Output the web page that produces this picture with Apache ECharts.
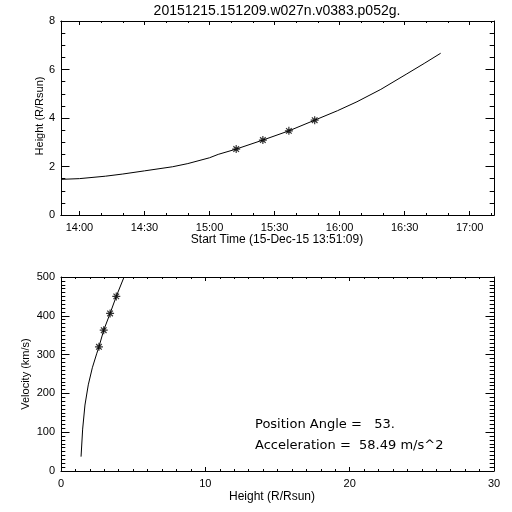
<!DOCTYPE html>
<html>
<head>
<meta charset="utf-8">
<script src="https://cdn.jsdelivr.net/npm/echarts@6/dist/echarts.min.js"></script>
<style>html,body{margin:0;padding:0;background:#fff}#c{width:512px;height:512px}</style>
</head>
<body>
<div id="c"></div>
<script>
// ---------- data ----------
const titleText = '20151215.151209.w027n.v0383.p052g.';
const timeTickLabels = ['14:00','14:30','15:00','15:30','16:00','16:30','17:00'];
const timeMinorTicks = ['14:10','14:20','14:40','14:50','15:10','15:20','15:40','15:50','16:10','16:20','16:40','16:50','17:10'];
// fitted height-time curve
const fitTimes   = ['13:51:30','14:00:00','14:12:00','14:20:00','14:30:00','14:43:00','14:50:00','15:00:00','15:04:00','15:12:00','15:24:36','15:36:36','15:48:30','15:59:00','16:08:00','16:19:00','16:31:00','16:39:00','16:46:36'];
const fitHeights = [1.47, 1.50, 1.60, 1.69, 1.82, 1.99, 2.12, 2.36, 2.50, 2.71, 3.09, 3.47, 3.91, 4.30, 4.67, 5.18, 5.82, 6.25, 6.67];
// measured points (asterisks)
const obsTimes   = ['15:12:18','15:24:36','15:36:36','15:48:30'];
const obsHeights = [2.72, 3.09, 3.47, 3.91];
// velocity vs height curve
const velCurveH = [1.39, 1.50, 1.66, 1.89, 2.17, 2.47, 2.63, 2.96, 3.40, 3.83, 4.37];
const velCurveV = [37, 108, 170, 222, 266, 302, 320, 363, 406, 450, 500];
const velObsH = [2.63, 2.96, 3.40, 3.83];
const velObsV = [320, 363, 406, 450];
const xTimeTitle = 'Start Time (15-Dec-15 13:51:09)';
const yTopTitle = 'Height (R/Rsun)';
const xBotTitle = 'Height (R/Rsun)';
const yBotTitle = 'Velocity (km/s)';
const annot1 = 'Position Angle =   53.';
const annot2 = 'Acceleration =  58.49 m/s^2';

// ---------- helpers ----------
function toMin(s){const p=s.split(':').map(Number);return p[0]*60+p[1]+(p[2]||0)/60;}
function fmt(v){const h=Math.floor(v/60), m=Math.round(v-h*60);return h+':'+(m<10?'0':'')+m;}
const T0 = toMin('13:51:30'), T1 = toMin('17:11:12');
const majors = timeTickLabels.map(toMin);
const minors = timeMinorTicks.map(toMin);
const BLK = '#000';
const tickFont = {color: BLK, fontSize: 11, fontFamily: 'Liberation Sans'};

function timeAxis(pos, vals, len, labels){
  return {gridIndex:0, type:'value', min:T0, max:T1, position:pos,
    axisLine:{show:true, onZero:false, lineStyle:{color:BLK,width:1}},
    axisTick:{show:true, inside:true, length:len, customValues:vals, lineStyle:{color:BLK,width:1}},
    axisLabel: labels ? Object.assign({show:true, customValues:vals, formatter:fmt, margin:7}, tickFont) : {show:false},
    splitLine:{show:false}};
}
function valAxis(grid, pos, min, max, itv, len, minSplit, minLen, labels, margin){
  return {gridIndex:grid, type:'value', min:min, max:max, interval:itv, position:pos,
    axisLine:{show:true, onZero:false, lineStyle:{color:BLK,width:1}},
    axisTick:{show:true, inside:true, length:len, lineStyle:{color:BLK,width:1}},
    minorTick:{show:true, splitNumber:minSplit, length:minLen, lineStyle:{color:BLK,width:1}},
    axisLabel: labels ? Object.assign({show:true, margin:margin}, tickFont) : {show:false},
    splitLine:{show:false}, minorSplitLine:{show:false}};
}

const asterisk = 'path://M0,5L10,5M5,0L5,10M1.5,1.5L8.5,8.5M1.5,8.5L8.5,1.5';

const option = {
  animation:false,
  backgroundColor:'#fff',
  grid:[{left:61, top:21, width:433, height:194},{left:61, top:277, width:433, height:194}],
  xAxis:[
    timeAxis('bottom', majors, 4, true),
    timeAxis('bottom', minors, 2, false),
    timeAxis('top', majors, 4, false),
    timeAxis('top', minors, 2, false),
    valAxis(1,'bottom',0,30,10,4,10,2,true,7),
    valAxis(1,'top',0,30,10,4,10,2,false,0)
  ],
  yAxis:[
    valAxis(0,'left',0,8,2,8.5,4,4.3,true,6),
    valAxis(0,'right',0,8,2,8.5,4,4.3,false,0),
    valAxis(1,'left',0,500,100,8.5,10,4.3,true,6),
    valAxis(1,'right',0,500,100,8.5,10,4.3,false,0)
  ],
  series:[
    {type:'line', xAxisIndex:0, yAxisIndex:0, showSymbol:false, symbol:'none',
      lineStyle:{color:BLK,width:1}, data:fitTimes.map((t,i)=>[toMin(t),fitHeights[i]])},
    {type:'scatter', xAxisIndex:0, yAxisIndex:0, symbol:asterisk, symbolSize:8,
      itemStyle:{color:'none', borderColor:BLK, borderWidth:1.2},
      data:obsTimes.map((t,i)=>[toMin(t),obsHeights[i]])},
    {type:'line', xAxisIndex:4, yAxisIndex:2, showSymbol:false, symbol:'none', smooth:false,
      lineStyle:{color:BLK,width:1}, data:velCurveH.map((h,i)=>[h,velCurveV[i]])},
    {type:'scatter', xAxisIndex:4, yAxisIndex:2, symbol:asterisk, symbolSize:8,
      itemStyle:{color:'none', borderColor:BLK, borderWidth:1.2},
      data:velObsH.map((h,i)=>[h,velObsV[i]])}
  ],
  graphic:[
    {type:'text', x:277, y:11, style:{text:titleText, fill:BLK, font:'14px "Liberation Sans"', align:'center', verticalAlign:'middle'}},
    {type:'text', x:277, y:240, style:{text:xTimeTitle, fill:BLK, font:'12px "Liberation Sans"', align:'center', verticalAlign:'middle'}},
    {type:'text', x:40, y:116, rotation:Math.PI/2, style:{text:yTopTitle, fill:BLK, font:'11px "Liberation Sans"', align:'center', verticalAlign:'middle'}},
    {type:'text', x:272, y:497, style:{text:xBotTitle, fill:BLK, font:'12px "Liberation Sans"', align:'center', verticalAlign:'middle'}},
    {type:'text', x:26, y:374, rotation:Math.PI/2, style:{text:yBotTitle, fill:BLK, font:'11px "Liberation Sans"', align:'center', verticalAlign:'middle'}},
    {type:'text', x:255, y:425, style:{text:annot1, fill:BLK, font:'13px "DejaVu Sans"', align:'left', verticalAlign:'middle'}},
    {type:'text', x:255, y:446, style:{text:annot2, fill:BLK, font:'13px "DejaVu Sans"', align:'left', verticalAlign:'middle'}}
  ]
};
const chart = echarts.init(document.getElementById('c'), null, {renderer:'canvas'});
chart.setOption(option);
</script>
</body>
</html>
